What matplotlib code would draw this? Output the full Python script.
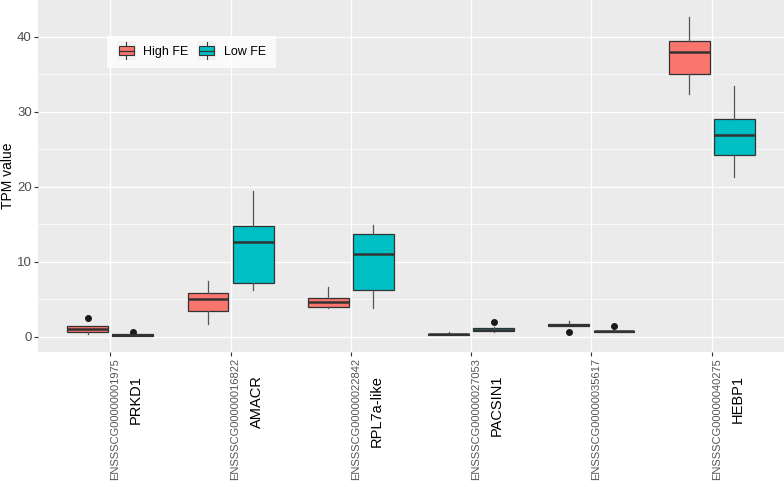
import matplotlib
matplotlib.use('Agg')
import matplotlib.pyplot as plt
from matplotlib.legend_handler import HandlerBase
from matplotlib.patches import Rectangle
from matplotlib.lines import Line2D
import matplotlib.transforms as mtransforms

# gene ids and names
gene_ids = ["ENSSSCG00000001975", "ENSSSCG00000016822", "ENSSSCG00000022842",
            "ENSSSCG00000027053", "ENSSSCG00000035617", "ENSSSCG00000040275"]
gene_names = ["PRKD1", "AMACR", "RPL7a-like", "PACSIN1", "", "HEBP1"]
groups = ["High FE", "Low FE"]

# box statistics
high_q1 = [0.6, 3.45, 4.05, 0.3, 1.5, 35.0]
high_med = [1.05, 5.0, 4.65, 0.4, 1.65, 38.0]
high_q3 = [1.4, 5.8, 5.25, 0.45, 1.75, 39.5]
high_lo = [0.45, 1.75, 3.8, 0.25, 1.5, 32.4]
high_hi = [1.4, 7.4, 6.6, 0.6, 2.1, 42.7]
high_out = [[2.5], [], [], [], [0.65], []]

low_q1 = [0.15, 7.15, 6.2, 0.8, 0.65, 24.3]
low_med = [0.27, 12.6, 11.0, 0.95, 0.75, 26.9]
low_q3 = [0.35, 14.85, 13.7, 1.2, 0.85, 29.1]
low_lo = [0.1, 6.2, 3.8, 0.7, 0.6, 21.3]
low_hi = [0.4, 19.5, 14.9, 1.3, 0.9, 33.5]
low_out = [[0.7], [], [], [2.05], [1.4], []]

colors = ["#F8766D", "#00BFC4"]
edge = "#333333"


def make_stats(q1, med, q3, lo, hi, out):
    return [dict(q1=a, med=b, q3=c, whislo=d, whishi=e, fliers=f)
            for a, b, c, d, e, f in zip(q1, med, q3, lo, hi, out)]


class BoxKeyHandler(HandlerBase):
    # ggplot-like boxplot key, drawn a bit taller than the text row
    def create_artists(self, legend, orig_handle, xdescent, ydescent,
                       width, height, fontsize, trans):
        x0 = -xdescent
        yc = -ydescent + height / 2
        h = 14.0
        y0 = yc - h / 2
        bg = Rectangle((x0, y0), width, h,
                       facecolor="#F2F2F2", edgecolor="none", transform=trans)
        bx = Rectangle((x0 + 1.5, y0 + h * 0.25), width - 3, h * 0.5,
                       facecolor=orig_handle.get_facecolor(), edgecolor=edge,
                       linewidth=0.8, transform=trans)
        med = Line2D([x0 + 1.5, x0 + width - 1.5], [yc] * 2,
                     color=edge, lw=0.9, transform=trans)
        w1 = Line2D([x0 + width / 2] * 2, [y0 + 1, y0 + h * 0.25],
                    color=edge, lw=0.8, transform=trans)
        w2 = Line2D([x0 + width / 2] * 2, [y0 + h * 0.75, y0 + h - 1],
                    color=edge, lw=0.8, transform=trans)
        return [bg, bx, med, w1, w2]


fig = plt.figure(figsize=(7.84, 4.87), dpi=100)
plt.rcParams['font.family'] = ['Liberation Sans', 'DejaVu Sans']
ax = fig.add_axes([38 / 784, 135 / 487, 746 / 784, 352 / 487])
ax.set_facecolor("#EBEBEB")

pos = list(range(1, len(gene_ids) + 1))
off = 0.1875
w = 0.34
for stats, shift, col in [(make_stats(high_q1, high_med, high_q3, high_lo, high_hi, high_out), -off, colors[0]),
                          (make_stats(low_q1, low_med, low_q3, low_lo, low_hi, low_out), off, colors[1])]:
    ax.bxp(stats, positions=[p + shift for p in pos], widths=w, patch_artist=True,
           showcaps=False,
           boxprops=dict(facecolor=col, edgecolor=edge, linewidth=0.9),
           medianprops=dict(color=edge, linewidth=1.8),
           whiskerprops=dict(color="#555555", linewidth=0.9),
           flierprops=dict(marker='o', markerfacecolor="#1a1a1a", markeredgecolor="#1a1a1a",
                           markersize=4))

ax.set_xlim(0.4, 6.6)
ax.set_ylim(-2.0, 44.9)
ax.set_yticks([0, 10, 20, 30, 40])
ax.set_yticks([5, 15, 25, 35], minor=True)
ax.set_xticks(pos)
ax.set_xticklabels([""] * len(pos))
ax.grid(True, which='major', color='white', linewidth=1.0)
ax.grid(True, which='minor', axis='y', color='white', linewidth=0.5)
ax.set_axisbelow(True)
for s in ax.spines.values():
    s.set_visible(False)
ax.tick_params(axis='both', which='major', color='#333333', length=3, width=0.8,
               labelsize=9.5, labelcolor='#4D4D4D', pad=1.5)
ax.tick_params(axis='y', which='minor', length=0)
ax.set_ylabel("TPM value", fontsize=10, color='black')
ax.yaxis.set_label_coords(-0.031, 0.5)

# two-part x labels: gene id (gray) and gene name (black)
tr = ax.get_xaxis_transform()
for p, gid, gname in zip(pos, gene_ids, gene_names):
    t1 = mtransforms.offset_copy(tr, fig=fig, x=5, y=-6, units='dots')
    ax.text(p, 0, gid, transform=t1, rotation=90, ha='center', va='top',
            fontsize=8, color='#555555')
    if gname:
        t2 = mtransforms.offset_copy(tr, fig=fig, x=26, y=-23, units='dots')
        ax.text(p, 0, gname, transform=t2, rotation=90, ha='center', va='top',
                fontsize=10.5, color='black')

handles = [Rectangle((0, 0), 1, 1, facecolor=c) for c in colors]
leg = ax.legend(handles, groups, loc='upper left', bbox_to_anchor=(0.0925, 0.898),
                ncol=2, frameon=True, fontsize=9, handler_map={Rectangle: BoxKeyHandler()},
                handlelength=1.5, columnspacing=0.7, handletextpad=0.6,
                borderpad=0.8, borderaxespad=0)
leg.get_frame().set_facecolor('white')
leg.get_frame().set_edgecolor('none')
leg.get_frame().set_boxstyle('square', pad=0)

fig.savefig("out.png", dpi=100)
